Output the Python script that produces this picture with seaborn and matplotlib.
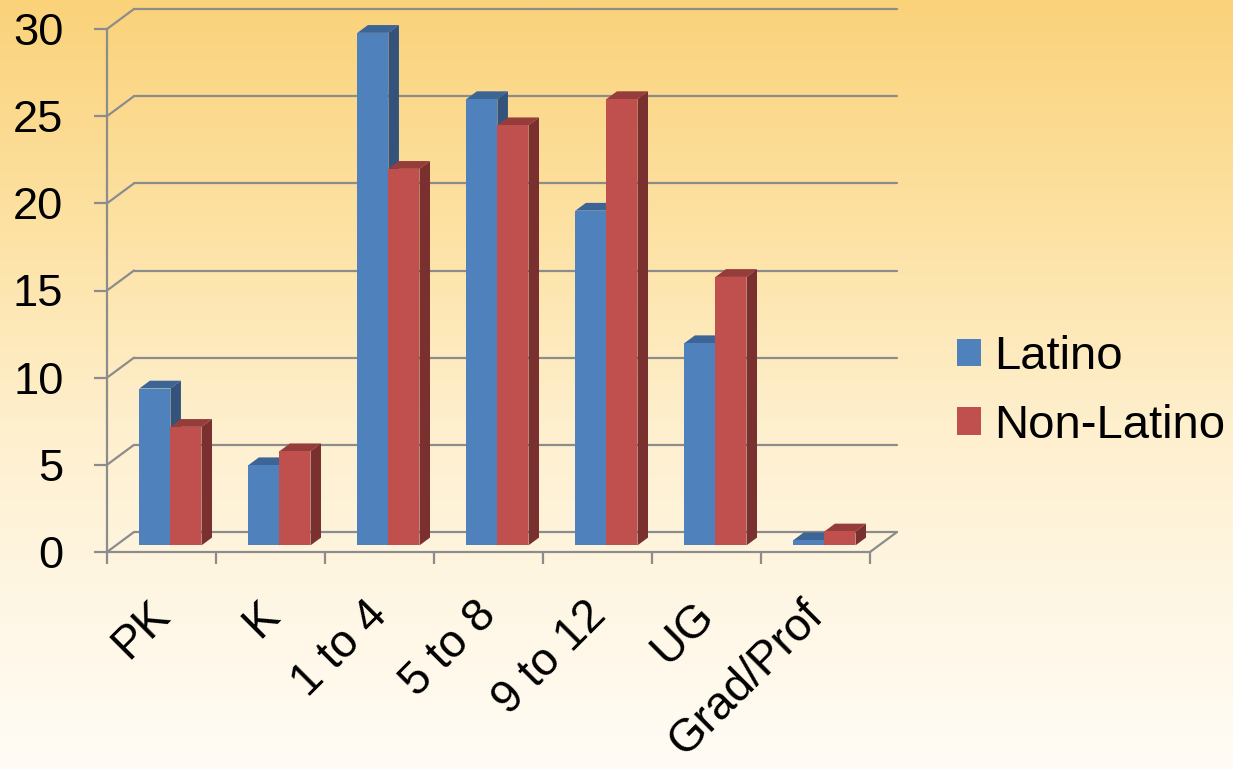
import numpy as np
import pandas as pd
import matplotlib
matplotlib.use("Agg")
import matplotlib.pyplot as plt
import matplotlib.transforms as mtransforms
from matplotlib.patches import Polygon, Patch
from matplotlib.colors import to_rgb
import seaborn as sns

# ---------------- data ----------------
categories = ["PK", "K", "1 to 4", "5 to 8", "9 to 12", "UG", "Grad/Prof"]
series = ["Latino", "Non-Latino"]
latino = [9.0, 4.6, 29.4, 25.6, 19.2, 11.6, 0.3]
non_latino = [6.8, 5.4, 21.6, 24.1, 25.6, 15.4, 0.8]
y_ticks = [0, 5, 10, 15, 20, 25, 30]

front_colors = {"Latino": "#4F81BD", "Non-Latino": "#C0504D"}
top_colors = {"Latino": "#3C6596", "Non-Latino": "#963D3B"}
side_colors = {"Latino": "#33537C", "Non-Latino": "#7A302F"}
grid_color = "#8C8C8C"

df = pd.DataFrame({
    "level": categories * 2,
    "pct": latino + non_latino,
    "group": [series[0]] * len(categories) + [series[1]] * len(categories),
})

sns.set_theme(style="white")
plt.rcParams["font.family"] = ["Liberation Sans", "DejaVu Sans"]
plt.rcParams["text.color"] = "black"

W, H = 1233, 769
fig = plt.figure(figsize=(W / 100, H / 100), dpi=100)

# ---------------- background gradient ----------------
bg = fig.add_axes([0, 0, 1, 1], zorder=-10)
stops = [(0.0, "#FAD27A"), (0.3, "#FDE2A4"), (0.55, "#FEEFCD"), (0.8, "#FFF7E6"), (1.0, "#FFFCF5")]
t = np.linspace(0, 1, 400)
cols = np.zeros((400, 3))
for c in range(3):
    cols[:, c] = np.interp(t, [s[0] for s in stops], [to_rgb(s[1])[c] for s in stops])
img = np.repeat(cols[:, None, :], 2, axis=1)
bg.imshow(img, aspect="auto", extent=[0, 1, 0, 1], origin="upper", interpolation="bilinear")
bg.set_axis_off()

# ---------------- main axes (front plane) ----------------
x0, x1 = 107, 870
yb, yt = 552, 29
ax = fig.add_axes([x0 / W, 1 - yb / H, (x1 - x0) / W, (yb - yt) / H])
ax.set_facecolor("none")

sns.barplot(data=df, x="level", y="pct", hue="group", order=categories,
            hue_order=series, palette=front_colors, width=0.57, saturation=1,
            errorbar=None, legend=False, ax=ax)
ax.set_xlim(-0.5, len(categories) - 0.5)
ax.set_ylim(0, 30)
ax.set_xlabel("")
ax.set_ylabel("")

# depth of the 3D wall in data units (from pixel offsets)
px_x = (x1 - x0) / len(categories)
px_y = (yb - yt) / 30.0
dxw = 27 / px_x
dyw = 20 / px_y
f0, f1 = 0.33, 0.72  # bar front/back depth fractions

# back wall gridlines + diagonals
xl, xr = ax.get_xlim()
for v in y_ticks:
    ax.plot([xl, xl + dxw], [v, v + dyw], color=grid_color, lw=1.6, clip_on=False, zorder=1)
    ax.plot([xl + dxw, xr + dxw], [v + dyw, v + dyw], color=grid_color, lw=1.6, clip_on=False, zorder=1)
ax.plot([xr, xr + dxw], [0, dyw], color=grid_color, lw=1.6, clip_on=False, zorder=1)

# 3D bar faces
ox, oy = f0 * dxw, f0 * dyw
ddx, ddy = (f1 - f0) * dxw, (f1 - f0) * dyw
for k, (name, cont) in enumerate(zip(series, ax.containers)):
    z = 3 + k
    for p in cont.patches:
        bx, bw, bh = p.get_x(), p.get_width(), p.get_height()
        p.set_x(bx + ox)
        p.set_y(oy)
        p.set_zorder(z + 0.2)
        p.set_edgecolor("none")
        p.set_clip_on(False)
        L, R, T = bx + ox, bx + ox + bw, bh + oy
        top = Polygon([(L, T), (R, T), (R + ddx, T + ddy), (L + ddx, T + ddy)],
                      closed=True, facecolor=top_colors[name], edgecolor="none",
                      zorder=z, clip_on=False)
        side = Polygon([(R, oy), (R, T), (R + ddx, T + ddy), (R + ddx, oy + ddy)],
                       closed=True, facecolor=side_colors[name], edgecolor="none",
                       zorder=z + 0.1, clip_on=False)
        ax.add_patch(top)
        ax.add_patch(side)

# spines & ticks
for s in ["top", "right"]:
    ax.spines[s].set_visible(False)
for s in ["left", "bottom"]:
    ax.spines[s].set_color(grid_color)
    ax.spines[s].set_linewidth(1.6)
    ax.spines[s].set_zorder(2)

ax.set_yticks(y_ticks)
ax.set_yticklabels([str(v) for v in y_ticks])
ax.tick_params(axis="y", direction="out", length=9.4, width=1.6, color=grid_color,
               pad=22, labelsize=32.6, labelcolor="black", left=True)

ax.set_xticks(np.arange(-0.5, len(categories), 1.0))
ax.set_xticklabels([])
ax.tick_params(axis="x", which="major", direction="out", length=8.6, width=1.6,
               color=grid_color, bottom=True)
ax.set_xticks(np.arange(len(categories)), minor=True)
ax.set_xticklabels(categories, minor=True, rotation=45, ha="right", va="top")
ax.tick_params(axis="x", which="minor", length=0, pad=29.5, labelsize=33,
               labelcolor="black")
shift = mtransforms.ScaledTranslation(17 / 100, 0, fig.dpi_scale_trans)
for lab in ax.get_xticklabels(minor=True):
    lab.set_transform(lab.get_transform() + shift)

# legend
handles = [Patch(facecolor=front_colors[s], edgecolor="none") for s in series]
fig.legend(handles, series, loc="center left",
           bbox_to_anchor=(957 / W, 1 - 391.5 / H), frameon=False,
           fontsize=34, handlelength=0.51, handleheight=0.51,
           handletextpad=0.28, labelspacing=0.52, borderpad=0, borderaxespad=0,
           labelcolor="black")

fig.savefig("out.png", dpi=100)
